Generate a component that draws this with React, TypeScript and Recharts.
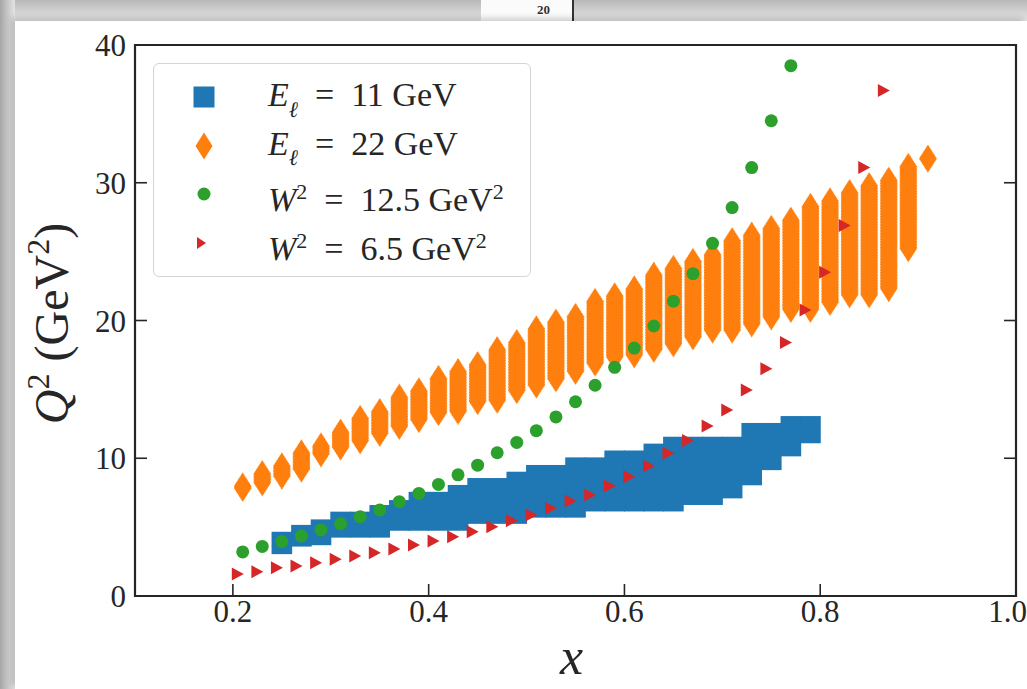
import React from "react";
import { ComposedChart, Bar, Scatter, XAxis, YAxis, ReferenceArea } from "recharts";

// x positions of the binned columns (E_l = 11 and 22 GeV samples)
const colX = [
  0.21, 0.23, 0.25, 0.27, 0.29, 0.31, 0.33, 0.35, 0.37, 0.39, 0.41, 0.43,
  0.45, 0.47, 0.49, 0.51, 0.53, 0.55, 0.57, 0.59, 0.61, 0.63, 0.65, 0.67,
  0.69, 0.71, 0.73, 0.75, 0.77, 0.79, 0.81, 0.83, 0.85, 0.87, 0.89, 0.91,
];

// E_l = 11 GeV : Q^2 range per column (null = no point)
const blueLow = [
  null, null, 3.8, 4.35, 4.45, 5.0, 5.0, 5.0, 5.5, 5.5, 5.5, 5.5,
  6.0, 6.0, 6.0, 6.45, 6.45, 6.45, 6.9, 6.9, 6.9, 6.9, 6.9, 7.37,
  7.37, 7.85, 8.8, 9.9, 10.9, 11.85, null, null, null, null, null, null,
];
const blueHigh = [
  null, null, 3.9, 4.4, 4.8, 5.36, 5.36, 5.84, 6.2, 6.8, 6.8, 7.3,
  7.8, 7.8, 8.26, 8.75, 8.75, 9.3, 9.3, 9.8, 9.8, 10.3, 10.8, 10.8,
  10.8, 10.8, 11.8, 11.8, 12.3, 12.3, null, null, null, null, null, null,
];

// E_l = 22 GeV : Q^2 range per column
const orangeLow = [
  7.8, 8.2, 8.7, 9.2, 10.3, 10.8, 11.25, 11.8, 12.3, 12.8, 13.3, 13.4,
  14.1, 14.2, 14.9, 15.3, 15.75, 16.3, 16.9, 17.35, 17.5, 17.9, 18.3, 18.8,
  19.3, 19.3, 19.75, 20.25, 20.8, 20.8, 21.3, 21.85, 21.85, 22.3, 25.2, 31.7,
];
const orangeHigh = [
  8.0, 8.9, 9.45, 10.4, 10.9, 11.9, 12.9, 13.4, 14.45, 14.9, 15.8, 16.3,
  16.8, 17.9, 18.4, 19.4, 19.9, 20.3, 21.4, 21.8, 22.3, 23.3, 23.8, 24.3,
  24.8, 25.8, 26.2, 26.7, 27.3, 28.3, 28.7, 29.3, 29.8, 30.2, 31.2, 31.8,
];

// W^2 = 12.5 GeV^2
const greenX = [
  0.21, 0.23, 0.25, 0.27, 0.29, 0.31, 0.33, 0.35, 0.37, 0.39, 0.41, 0.43, 0.45,
  0.47, 0.49, 0.51, 0.53, 0.55, 0.57, 0.59, 0.61, 0.63, 0.65, 0.67, 0.69, 0.71,
  0.73, 0.75, 0.77,
];
const greenY = [
  3.2, 3.6, 3.95, 4.35, 4.8, 5.25, 5.75, 6.25, 6.85, 7.45, 8.1, 8.8, 9.5,
  10.4, 11.15, 12.0, 13.0, 14.1, 15.3, 16.6, 18.0, 19.6, 21.4, 23.4, 25.6, 28.2,
  31.1, 34.5, 38.5,
];

// W^2 = 6.5 GeV^2
const redX = [
  0.205, 0.225, 0.245, 0.265, 0.285, 0.305, 0.325, 0.345, 0.365, 0.385, 0.405,
  0.425, 0.445, 0.465, 0.485, 0.505, 0.525, 0.545, 0.565, 0.585, 0.605, 0.625,
  0.645, 0.665, 0.685, 0.705, 0.725, 0.745, 0.765, 0.785, 0.805, 0.825, 0.845,
  0.865,
];
const redY = [
  1.6, 1.76, 2.05, 2.18, 2.42, 2.66, 2.9, 3.14, 3.41, 3.7, 3.99,
  4.3, 4.67, 5.03, 5.47, 5.88, 6.37, 6.9, 7.33, 7.99, 8.66, 9.44,
  10.36, 11.28, 12.34, 13.5, 14.95, 16.5, 18.4, 20.76, 23.5, 26.9, 31.1,
  36.7,
];

const xTicks = [0.2, 0.4, 0.6, 0.8, 1.0];
const yTicks = [0, 10, 20, 30, 40];

const BLUE = "#1f77b4";
const ORANGE = "#ff7f0e";
const GREEN = "#2ca02c";
const RED = "#d62728";
const SERIF = "'Liberation Serif', 'DejaVu Serif', serif";
const INK = "#262626";

const span = (p: any) => {
  const top = Math.min(p.y, p.y + p.height);
  const bot = Math.max(p.y, p.y + p.height);
  return { cx: p.x + p.width / 2, top, bot };
};

const BlueBlock = (p: any) => {
  if (!p.payload || !p.payload.blue || !Number.isFinite(p.y)) return <g />;
  const { cx, top, bot } = span(p);
  return <rect x={cx - 10.3} y={top - 10.5} width={20.6} height={bot - top + 21} fill={BLUE} />;
};

const OrangeStack = (p: any) => {
  if (!p.payload || !p.payload.orange || !Number.isFinite(p.y)) return <g />;
  const { cx, top, bot } = span(p);
  const hw = 8.6;
  const hh = 13.5;
  const pts = [
    [cx, top - hh], [cx + hw, top], [cx + hw, bot],
    [cx, bot + hh], [cx - hw, bot], [cx - hw, top],
  ].map((q) => q.join(",")).join(" ");
  return <polygon points={pts} fill={ORANGE} stroke="#ffe6c8" strokeWidth={0.8} strokeDasharray="1.2 1.6" />;
};

const Dot = (p: any) => <circle cx={p.cx} cy={p.cy} r={6.5} fill={GREEN} />;

const Tri = (p: any) => (
  <polygon
    points={`${p.cx + 6},${p.cy} ${p.cx - 6},${p.cy - 6.5} ${p.cx - 6},${p.cy + 6.5}`}
    fill={RED}
  />
);

const YTitle = (props: any) => {
  const vb = props.viewBox || { x: 0, y: 45, width: 135, height: 551 };
  const cx = vb.x + 68;
  const cy = vb.y + vb.height / 2 + 3;
  return (
    <text x={cx} y={cy} transform={`rotate(-90 ${cx} ${cy})`} textAnchor="middle"
      fontFamily={SERIF} fontSize={48} fill={INK}>
      <tspan fontStyle="italic">Q</tspan>
      <tspan dy={-19} fontSize={32}>2</tspan>
      <tspan dy={19}> (GeV</tspan>
      <tspan dy={-19} fontSize={32}>2</tspan>
      <tspan dy={19}>)</tspan>
    </text>
  );
};

const XTitle = (props: any) => {
  const vb = props.viewBox || { x: 135, y: 596, width: 881, height: 80 };
  return (
    <text x={vb.x + vb.width / 2 - 4} y={vb.y + 78} textAnchor="middle"
      fontFamily={SERIF} fontStyle="italic" fontSize={52} fill={INK}>x</text>
  );
};

const sub = { fontSize: 22, position: "relative" as const, top: 3 };
const sup = { fontSize: 22 };

const legendItems = [
  { key: "blue", marker: "square", label: <><i>E</i><sub style={sub}><i>ℓ</i></sub>{"  =  11 GeV"}</> },
  { key: "orange", marker: "diamond", label: <><i>E</i><sub style={sub}><i>ℓ</i></sub>{"  =  22 GeV"}</> },
  { key: "green", marker: "circle", label: <><i>W</i><sup style={sup}>2</sup>{"  =  12.5 GeV"}<sup style={sup}>2</sup></> },
  { key: "red", marker: "triangle", label: <><i>W</i><sup style={sup}>2</sup>{"  =  6.5 GeV"}<sup style={sup}>2</sup></> },
];

const LegendMarker = ({ kind }: { kind: string }) => (
  <svg width={30} height={30} style={{ position: "absolute", left: 35, top: 0 }}>
    {kind === "square" && <rect x={4.5} y={4.5} width={21} height={21} fill={BLUE} />}
    {kind === "diamond" && <polygon points="15,1.5 23.5,15 15,28.5 6.5,15" fill={ORANGE} />}
    {kind === "circle" && <circle cx={15} cy={15} r={6.5} fill={GREEN} />}
    {kind === "triangle" && <polygon points="17,15 8,9 8,21" fill={RED} />}
  </svg>
);

export default function App() {
  const data = colX.map((x, i) => ({
    x,
    blue: blueLow[i] == null ? undefined : [blueLow[i], blueHigh[i]],
    orange: [orangeLow[i], orangeHigh[i]],
  }));
  const greenPts = greenX.map((x, i) => ({ x, y: greenY[i] }));
  const redPts = redX.map((x, i) => ({ x, y: redY[i] }));

  const tickStyle = { fontFamily: SERIF, fontSize: 31, fill: INK };

  return (
    <div style={{ position: "fixed", left: 0, top: 0, width: 1027, height: 689, overflow: "hidden", background: "#fff" }}>
      {/* scanned page edges */}
      <div style={{ position: "absolute", left: 0, top: 0, width: 1027, height: 21, background: "linear-gradient(#b8b8b8, #d2d2d2 55%, #e6e6e6)" }} />
      <div style={{ position: "absolute", left: 481, top: 0, width: 92, height: 21, background: "#fbfbfb", overflow: "hidden" }}>
        <div style={{ position: "absolute", left: 56, top: 3, fontFamily: SERIF, fontWeight: 700, fontSize: 13, lineHeight: "14px", color: "#333" }}>20</div>
      </div>
      <div style={{ position: "absolute", left: 572, top: 0, width: 2, height: 21, background: "#333" }} />
      <div style={{ position: "absolute", left: 0, top: 0, width: 15, height: 689, background: "linear-gradient(to right, #a6a6a6, #c9c9c9 55%, #e4e4e4)" }} />
      <div style={{ position: "absolute", left: 15, top: 21, width: 1012, height: 668, background: "#fff", boxShadow: "-3px -3px 6px rgba(0,0,0,0.18)" }} />

      <div style={{ position: "absolute", left: 0, top: 0 }}>
        <ComposedChart width={1027} height={689} data={data} margin={{ top: 45, right: 0, bottom: 13, left: 0 }}>
          <XAxis xAxisId={0} type="number" dataKey="x" domain={[0.1, 1.0]} ticks={xTicks} allowDataOverflow
            tickFormatter={(v: number) => v.toFixed(1)} height={80} axisLine={false}
            tickSize={-12} tickMargin={16} tickLine={{ stroke: INK, strokeWidth: 1.6 }} tick={tickStyle}
            label={<XTitle />} />
          <XAxis xAxisId="xb" type="number" dataKey="x" domain={[0.1, 1.0]} allowDataOverflow hide />
          <XAxis xAxisId="xo" type="number" dataKey="x" domain={[0.1, 1.0]} allowDataOverflow hide />
          <YAxis yAxisId={0} type="number" dataKey="y" domain={[0, 40]} ticks={yTicks} allowDataOverflow width={135}
            axisLine={false} tickSize={-12} tickMargin={21} tickLine={{ stroke: INK, strokeWidth: 1.6 }} tick={tickStyle}
            label={<YTitle />} />
          <YAxis yAxisId="r" orientation="right" type="number" domain={[0, 40]} ticks={yTicks} allowDataOverflow width={11}
            axisLine={false} tickSize={-12} tickLine={{ stroke: INK, strokeWidth: 1.6 }} tick={() => <g />} />

          <Bar xAxisId="xb" dataKey="blue" barSize={20} shape={<BlueBlock />} isAnimationActive={false} />
          <Bar xAxisId="xo" dataKey="orange" barSize={20} shape={<OrangeStack />} isAnimationActive={false} />
          <Scatter data={greenPts} shape={<Dot />} isAnimationActive={false} />
          <Scatter data={redPts} shape={<Tri />} isAnimationActive={false} />

          <ReferenceArea x1={0.1} x2={1.0} y1={0} y2={40} fill="none" stroke={INK} strokeWidth={2.2} ifOverflow="visible" />
        </ComposedChart>
      </div>

      {/* legend */}
      <div style={{ position: "absolute", left: 153, top: 63, width: 376, height: 212, border: "1.5px solid #d4d4d4", borderRadius: 6, background: "rgba(255,255,255,0.85)", fontFamily: SERIF, fontSize: 34, color: INK }}>
        {legendItems.map((it, i) => (
          <div key={it.key} style={{ position: "absolute", left: 0, top: 18 + i * 48.5, width: 376, height: 30 }}>
            <LegendMarker kind={it.marker} />
            <div style={{ position: "absolute", left: 114, top: -5, whiteSpace: "pre", lineHeight: "36px" }}>{it.label}</div>
          </div>
        ))}
      </div>
    </div>
  );
}
